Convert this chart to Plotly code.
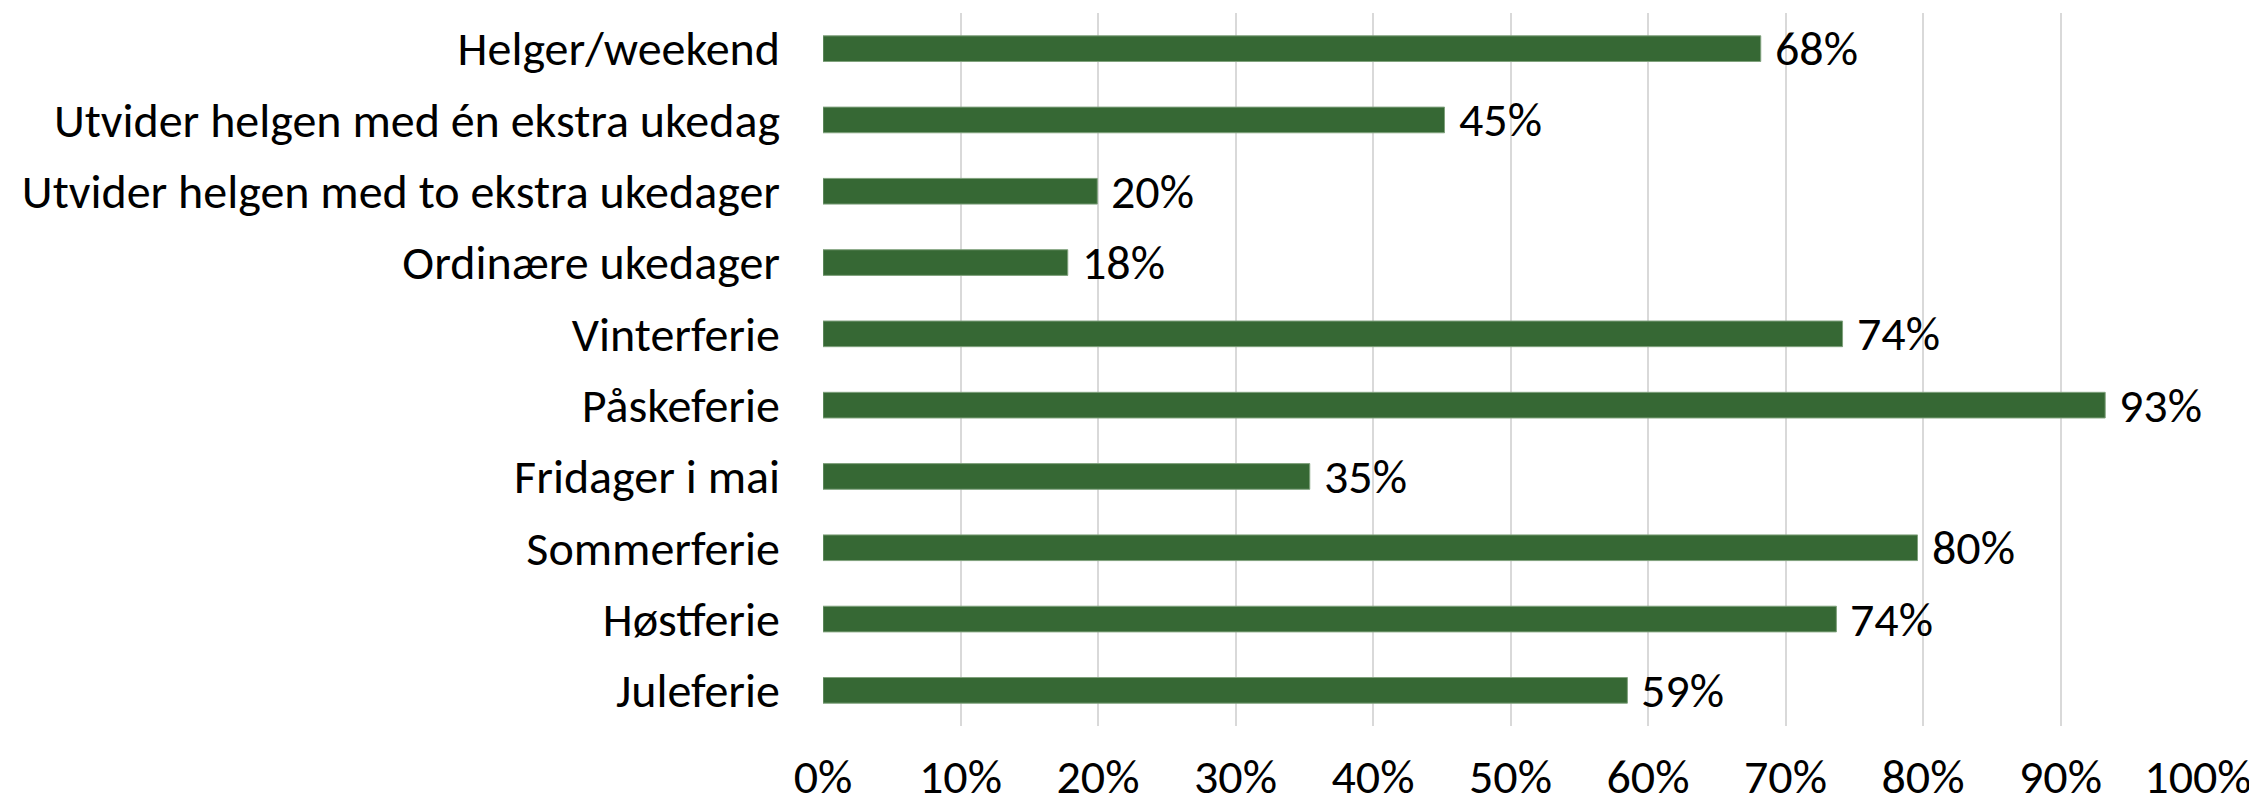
import plotly.graph_objects as go

categories = [
    "Helger/weekend",
    "Utvider helgen med én ekstra ukedag",
    "Utvider helgen med to ekstra ukedager",
    "Ordinære ukedager",
    "Vinterferie",
    "Påskeferie",
    "Fridager i mai",
    "Sommerferie",
    "Høstferie",
    "Juleferie",
]
values = [0.682, 0.452, 0.1995, 0.178, 0.7415, 0.9325, 0.354, 0.796, 0.737, 0.585]
labels = ["68%", "45%", "20%", "18%", "74%", "93%", "35%", "80%", "74%", "59%"]
tick_vals = [i / 10 for i in range(11)]
tick_text = [f"{i*10}%" for i in range(11)]

FONT = "Carlito, Calibri, Lato, sans-serif"
FS = 48

fig = go.Figure()
fig.add_trace(go.Bar(
    x=values, y=categories, orientation="h",
    marker=dict(color="#366834", line=dict(color="#7fa17c", width=1)),
    hoverinfo="skip",
))

for v, c, t in zip(values, categories, labels):
    fig.add_annotation(x=v, y=c, text=t, showarrow=False, xanchor="left",
                       xshift=12, yanchor="middle",
                       font=dict(family=FONT, size=FS, color="#000000"))

fig.update_layout(
    width=2249, height=799,
    margin=dict(l=815, r=59, t=5, b=81, autoexpand=False),
    paper_bgcolor="white", plot_bgcolor="white",
    bargap=0.64,
    showlegend=False,
    font=dict(family=FONT, size=FS, color="#000000"),
)
fig.update_xaxes(range=[0, 1], tickvals=tick_vals, ticktext=tick_text,
                 showgrid=True, gridcolor="#d9d9d9", gridwidth=2,
                 zeroline=False, showline=False, ticks="",
                 ticklabelstandoff=18,
                 tickfont=dict(family=FONT, size=FS, color="#000000"))
fig.update_yaxes(autorange="reversed", showgrid=False, zeroline=False,
                 showline=False, ticks="", ticklabelstandoff=42,
                 tickfont=dict(family=FONT, size=FS, color="#000000"))

fig.write_html("out.html")
